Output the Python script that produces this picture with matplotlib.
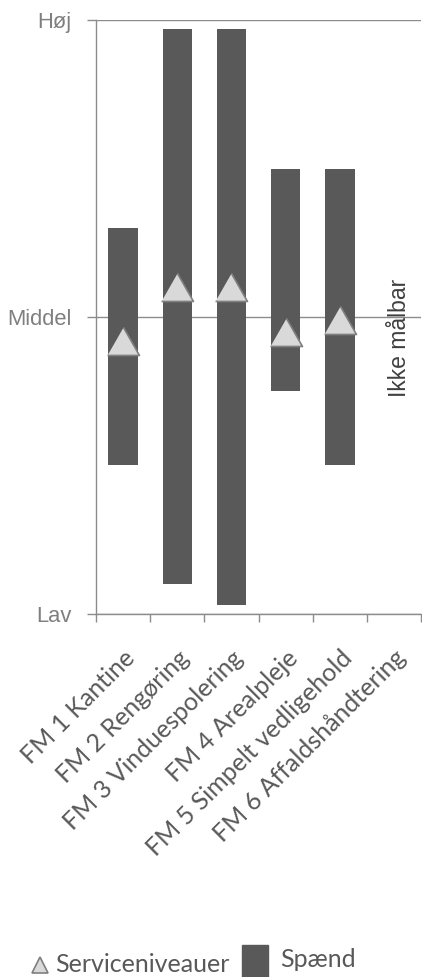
import matplotlib
matplotlib.use("Agg")
import matplotlib.pyplot as plt
from matplotlib.patches import Rectangle
from matplotlib.lines import Line2D

# Service areas and their level ranges (0 = Lav, 1 = Middel, 2 = Høj)
categories = ["FM 1 Kantine", "FM 2 Rengøring", "FM 3 Vinduespolering",
              "FM 4 Arealpleje", "FM 5 Simpelt vedligehold", "FM 6 Affaldshåndtering"]
span_low = [0.50, 0.10, 0.03, 0.75, 0.50]
span_high = [1.30, 1.97, 1.97, 1.50, 1.50]
service_level = [0.92, 1.10, 1.10, 0.95, 0.99]
level_ticks = [0, 1, 2]
level_labels = ["Lav", "Middel", "Høj"]
not_measurable = "Ikke målbar"

BAR = "#595959"
AXIS = "#8c8c8c"

fig = plt.figure(figsize=(4.22, 9.77), dpi=100)
ax = fig.add_axes([0.2275, 0.3716, 0.7705, 0.6079])

n = len(categories)
xs = list(range(len(span_low)))
ax.bar(xs, [h - l for l, h in zip(span_low, span_high)], bottom=span_low,
       width=0.54, color=BAR, zorder=2)

tri = [(-1, -0.875), (1, -0.875), (0, 0.875)]
ax.plot(xs, service_level, linestyle="none", marker=tri, markersize=23,
        markerfacecolor="#d9d9d9", markeredgecolor="#808080",
        markeredgewidth=1.2, zorder=3)

ax.text(n - 1 + 0.1, 0.93, not_measurable, rotation=90, ha="center", va="center",
        fontsize=16.5, color="#404040", family="Liberation Sans")

ax.set_xlim(-0.5, n - 0.5)
ax.set_ylim(0, 2)

# y axis: level labels with outward ticks, gridlines at Middel and Høj
ax.set_yticks(level_ticks)
ax.set_yticklabels(level_labels, fontsize=15.8, color="#7f7f7f",
                   family="Liberation Sans")
ax.tick_params(axis="y", direction="out", length=6.5, width=1, color=AXIS, pad=11)
ax.yaxis.grid(True, color=AXIS, linewidth=1)
ax.set_axisbelow(True)

# x axis: boundary ticks, labels centred on categories
ax.set_xticks([i - 0.5 for i in range(n + 1)])
ax.set_xticklabels([])
ax.tick_params(axis="x", which="major", direction="out", length=5.8, width=1, color=AXIS)
ax.set_xticks(range(n), minor=True)
ax.set_xticklabels(categories, minor=True, rotation=45, ha="right",
                   rotation_mode="anchor", fontsize=18, color="#595959",
                   family="Lato")
ax.tick_params(axis="x", which="minor", length=0, pad=23)

for s in ["top", "right"]:
    ax.spines[s].set_visible(False)
for s in ["left", "bottom"]:
    ax.spines[s].set_color(AXIS)
    ax.spines[s].set_linewidth(1)

# legend along the bottom edge
fig.add_artist(Line2D([40 / 422], [1 - 965 / 977], transform=fig.transFigure,
                      marker="^", markersize=11, linestyle="none",
                      markerfacecolor="#d9d9d9", markeredgecolor="#7f7f7f",
                      markeredgewidth=1.2))
fig.text(55 / 422, 1 - 972 / 977, "Serviceniveauer", fontsize=18, color="#595959",
         family="Lato", ha="left", va="baseline")
fig.add_artist(Rectangle((242 / 422, 0), 26 / 422, 32 / 977,
                         transform=fig.transFigure, color=BAR))
fig.text(280 / 422, 1 - 967 / 977, "Spænd", fontsize=18, color="#595959",
         family="Lato", ha="left", va="baseline")

fig.savefig("out.png", dpi=100)
